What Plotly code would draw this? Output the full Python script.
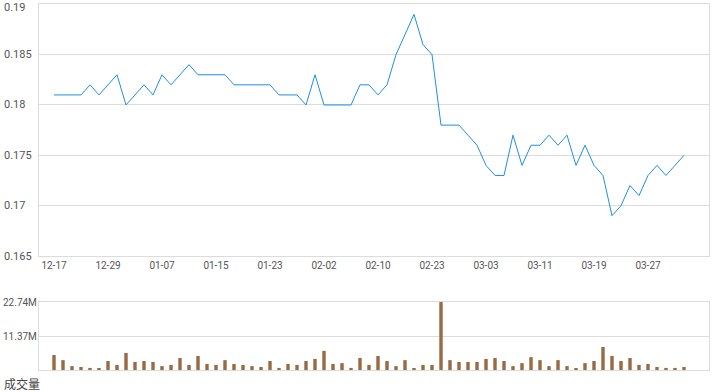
import plotly.graph_objects as go

# ---- data ----
tick_labels = ["12-17", "12-29", "01-07", "01-15", "01-23", "02-02",
               "02-10", "02-23", "03-03", "03-11", "03-19", "03-27"]
tick_step = 6

price = [0.181, 0.181, 0.181, 0.181, 0.182, 0.181, 0.182, 0.183, 0.180, 0.181,
         0.182, 0.181, 0.183, 0.182, 0.183, 0.184, 0.183, 0.183, 0.183, 0.183,
         0.182, 0.182, 0.182, 0.182, 0.182, 0.181, 0.181, 0.181, 0.180, 0.183,
         0.180, 0.180, 0.180, 0.180, 0.182, 0.182, 0.181, 0.182, 0.185, 0.187,
         0.189, 0.186, 0.185, 0.178, 0.178, 0.178, 0.177, 0.176, 0.174, 0.173,
         0.173, 0.177, 0.174, 0.176, 0.176, 0.177, 0.176, 0.177, 0.174, 0.176,
         0.174, 0.173, 0.169, 0.170, 0.172, 0.171, 0.173, 0.174, 0.173, 0.174,
         0.175]

volume_m = [5.0, 3.3, 1.3, 1.0, 0.7, 0.35, 3.0, 1.7, 5.7, 2.7,
            3.0, 2.7, 1.3, 1.7, 4.0, 1.7, 4.7, 2.0, 1.7, 3.3,
            2.0, 1.7, 1.3, 1.0, 3.0, 0.7, 2.0, 1.7, 3.0, 3.7,
            6.4, 2.0, 2.3, 0.7, 4.0, 1.7, 4.7, 3.0, 1.3, 3.3,
            0.35, 1.7, 1.7, 22.74, 3.3, 2.7, 2.7, 2.7, 3.7, 4.0,
            3.0, 1.3, 2.3, 4.3, 3.3, 1.3, 3.3, 1.3, 0.35, 2.3,
            3.0, 7.7, 4.7, 3.0, 4.0, 1.7, 2.0, 1.0, 0.7, 0.7,
            1.0]

price_ticks = [0.165, 0.17, 0.175, 0.18, 0.185, 0.19]
price_tick_text = ["0.165", "0.17", "0.175", "0.18", "0.185", "0.19"]
vol_max = 22.74
vol_ticks = [vol_max / 2, vol_max]
vol_tick_text = ["11.37M", "22.74M"]
vol_title = "成交量"

# ---- figure ----
W, H = 720, 392
n = len(price)
idx = list(range(n))
x_range = [-15 / 9, (709 - 54) / 9]
dom_x = [39 / W, 709 / W]
main_dom = [1 - 256 / H, 1 - 4.3 / H]
vol_dom = [1 - 370 / H, 1 - 302 / H]

grid = "#dcdcdc"
txt = "#555555"
font = "Roboto, Arial, sans-serif"

fig = go.Figure()
fig.add_trace(go.Scatter(x=idx, y=price, mode="lines",
                         line=dict(color="#1e8fe3", width=1),
                         xaxis="x", yaxis="y", hoverinfo="skip"))
fig.add_trace(go.Bar(x=idx, y=[v * 1e6 for v in volume_m], width=0.38,
                     marker=dict(color="#9a6a42", line=dict(width=0)),
                     xaxis="x2", yaxis="y2", hoverinfo="skip"))

tickvals = [i * tick_step for i in range(len(tick_labels))]

fig.update_layout(
    width=W, height=H, margin=dict(l=0, r=0, t=0, b=0),
    paper_bgcolor="white", plot_bgcolor="white", showlegend=False,
    font=dict(family=font, color=txt),
    xaxis=dict(domain=dom_x, range=x_range, anchor="y",
               tickvals=tickvals, ticktext=tick_labels,
               tickfont=dict(size=10, color=txt), ticks="",
               showgrid=False, zeroline=False,
               showline=True, linecolor=grid, mirror=True),
    yaxis=dict(domain=main_dom, range=[0.165, 0.19], anchor="x",
               tickvals=price_ticks, showticklabels=False,
               showgrid=True, gridcolor=grid, zeroline=False,
               showline=True, linecolor=grid, mirror=True),
    xaxis2=dict(domain=dom_x, range=x_range, anchor="y2",
                showticklabels=False, ticks="", showgrid=False,
                zeroline=False, showline=True, linecolor=grid, mirror=True),
    yaxis2=dict(domain=vol_dom, range=[0, vol_max * 1e6], anchor="x2",
                tickvals=[v * 1e6 for v in vol_ticks], showticklabels=False,
                showgrid=True, gridcolor=grid, zeroline=False,
                showline=True, linecolor=grid, mirror=True),
)

ann = []
for v, t in zip(price_ticks, price_tick_text):
    ann.append(dict(x=2 / W, xref="paper", xanchor="left",
                    y=v, yref="y", yanchor="middle", text=t, showarrow=False,
                    yshift=-3 if v == max(price_ticks) else 0,
                    font=dict(size=11, color=txt, family=font)))
for v, t in zip(vol_ticks, vol_tick_text):
    ann.append(dict(x=1 / W, xref="paper", xanchor="left",
                    y=v * 1e6, yref="y2", yanchor="middle", text=t, showarrow=False,
                    font=dict(size=10, color=txt, family=font)))
ann.append(dict(x=2 / W, xref="paper", xanchor="left",
                y=1 - 383 / H, yref="paper", yanchor="middle", text=vol_title,
                showarrow=False, font=dict(size=12, color="#444444",
                                           family="Noto Sans CJK SC, sans-serif")))
fig.update_layout(annotations=ann)

fig.write_html("out.html")
